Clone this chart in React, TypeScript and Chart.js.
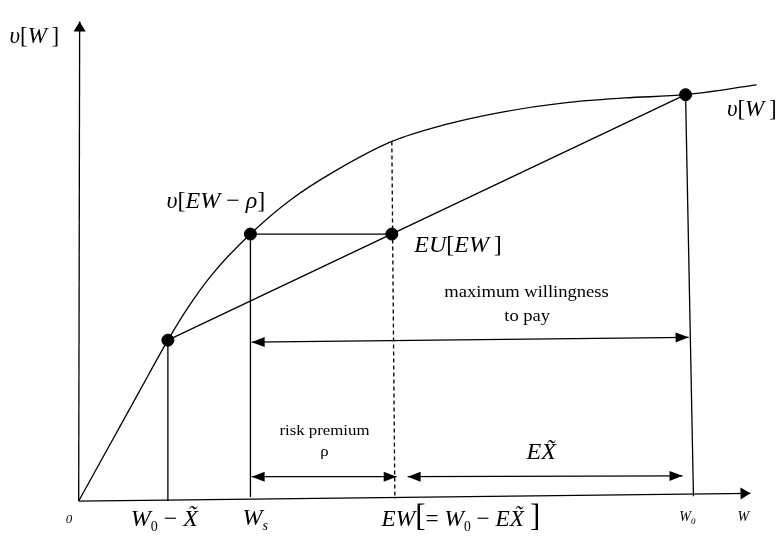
import { useEffect, useRef } from 'react';
import { Chart, registerables } from 'chart.js';

Chart.register(...registerables);

// ---- data (W in units where W0 = 100, utility in units where v[W0] = 100) ----
const curveW = [0, 10, 14.7, 18, 22, 28.3, 35, 42, 51.6, 60, 70, 80, 90, 100, 111.7];
const curveV = [0, 27, 39.6, 47.6, 55.8, 65.7, 74.2, 81.0, 88.5, 92.5, 95.8, 98.0, 99.2, 100, 102.4];

const keyW = [14.7, 28.3, 51.6, 100]; // W0 - X~, Ws, EW, W0
const keyV = [39.6, 65.7, 88.5, 100]; // v[W0-X~], v[EW-rho], v[EW], v[W0]
const euValue = 65.7; // EU[EW] on the chord at EW

const xAxisEnd = [110.7, 1.9];
const yAxisTop = [0.16, 118];
const dashedFoot = [52.1, 0.5];
const wsFoot = [28.3, 1.0];
const w0Foot = [101.3, 1.2];

const maxPayW = [28.5, 100.5];
const maxPayV = [39.1, 40.3];
const premiumW = [28.5, 52.4];
const premiumV = [6.0, 6.0];
const expLossW = [54.2, 99.5];
const expLossV = [6.0, 6.2];

const FONT = '"Liberation Serif", "Times New Roman", serif';

type Seg = { t: string; size: number; italic?: boolean; dy?: number };
const s = (t: string, size: number, italic = false, dy = 0): Seg => ({ t, size, italic, dy });

// annotation anchors (data units: centre x, baseline y)
const labels: { w: number; v: number; sx: number; segs: Seg[] }[] = [
  { w: -7.3, v: 112.7, sx: 1, segs: [s('υ', 23, true), s('[', 23), s('W', 23, true), s('\u2009]', 23)] },
  { w: 110.9, v: 94.7, sx: 1, segs: [s('υ', 23, true), s('[', 23), s('W', 23, true), s('\u2009]', 23)] },
  { w: 22.6, v: 72.2, sx: 1, segs: [s('υ', 24, true), s('[', 24), s('EW', 24, true), s(' − ', 24), s('ρ', 24, true), s(']', 24)] },
  { w: 62.5, v: 61.2, sx: 1, segs: [s('EU', 24, true), s('[', 24), s('EW', 24, true), s('\u2009]', 24)] },
  { w: 76.2, v: 10.3, sx: 1.05, segs: [s('EX\u0303', 23, true)] },
  { w: 73.8, v: 50.1, sx: 1.16, segs: [s('maximum willingness', 16)] },
  { w: 73.9, v: 44.4, sx: 1.16, segs: [s('to pay', 16)] },
  { w: 40.5, v: 16.3, sx: 1.2, segs: [s('risk premium', 14)] },
  { w: 40.5, v: 11.0, sx: 1.2, segs: [s('ρ', 14)] },
  { w: -1.6, v: -5.5, sx: 1, segs: [s('0', 13, true)] },
  { w: 14.1, v: -6.2, sx: 1, segs: [s('W', 24, true), s('0', 14, false, 5), s(' − ', 24), s('X\u0303', 24, true)] },
  { w: 29.1, v: -6.0, sx: 1, segs: [s('W', 24, true), s('s', 14, true, 5)] },
  { w: 63.0, v: -6.2, sx: 0.97, segs: [s('EW', 24, true), s('[', 32), s('= ', 24), s('W', 24, true), s('0', 14, false, 5), s(' − ', 24), s('EX\u0303', 24, true), s('\u2009]', 32)] },
  { w: 100.3, v: -4.8, sx: 1, segs: [s('W', 14, true), s('0', 9, true, 3)] },
  { w: 109.5, v: -4.8, sx: 1, segs: [s('W', 14, true)] },
];

const fontOf = (g: Seg) => `${g.italic ? 'italic ' : ''}${g.size}px ${FONT}`;

function drawHead(ctx: CanvasRenderingContext2D, tip: any, from: any, len: number, wid: number) {
  const a = Math.atan2(tip.y - from.y, tip.x - from.x);
  const cx = Math.cos(a), sy = Math.sin(a);
  const bx = tip.x - len * cx, by = tip.y - len * sy;
  ctx.beginPath();
  ctx.moveTo(tip.x, tip.y);
  ctx.lineTo(bx - (wid / 2) * sy, by + (wid / 2) * cx);
  ctx.lineTo(bx + (wid / 2) * sy, by - (wid / 2) * cx);
  ctx.closePath();
  ctx.fill();
}

const annotPlugin = {
  id: 'annot',
  afterDatasetsDraw(chart: any) {
    const ctx: CanvasRenderingContext2D = chart.ctx;
    ctx.save();
    ctx.fillStyle = '#000';
    chart.data.datasets.forEach((ds: any, i: number) => {
      if (!ds.arrow) return;
      const pts = chart.getDatasetMeta(i).data;
      const first = pts[0], last = pts[pts.length - 1];
      const len = ds.headLen || 13, wid = ds.headWid || 10;
      drawHead(ctx, last, first, len, wid);
      if (ds.arrow === 'both') drawHead(ctx, first, last, len, wid);
    });
    ctx.restore();
  },
  afterDraw(chart: any) {
    const ctx: CanvasRenderingContext2D = chart.ctx;
    const xs = chart.scales.x, ys = chart.scales.y;
    ctx.save();
    ctx.fillStyle = '#000';
    ctx.textBaseline = 'alphabetic';
    ctx.textAlign = 'left';
    labels.forEach((lb) => {
      let total = 0;
      const widths = lb.segs.map((g) => {
        ctx.font = fontOf(g);
        const w = ctx.measureText(g.t).width;
        total += w;
        return w;
      });
      const px = xs.getPixelForValue(lb.w);
      const py = ys.getPixelForValue(lb.v);
      ctx.save();
      ctx.translate(px - (total * lb.sx) / 2, py);
      ctx.scale(lb.sx, 1);
      let off = 0;
      lb.segs.forEach((g, k) => {
        ctx.font = fontOf(g);
        ctx.fillText(g.t, off, g.dy || 0);
        off += widths[k];
      });
      ctx.restore();
    });
    ctx.restore();
  },
};

const line = (pts: { x: number; y: number }[], extra: any = {}) => ({
  type: 'scatter',
  data: pts,
  showLine: true,
  borderColor: '#000',
  borderWidth: 1.3,
  pointRadius: 0,
  fill: false,
  tension: 0,
  ...extra,
});

export default function App() {
  const ref = useRef<HTMLCanvasElement>(null);
  useEffect(() => {
    if (!ref.current) return;
    const [wLow, wS, wEW, w0] = keyW;
    const [vLow, vS, vEW, v0] = keyV;
    const datasets: any[] = [
      {
        type: 'scatter',
        data: [
          { x: wLow, y: vLow },
          { x: wS, y: vS },
          { x: wEW, y: euValue },
          { x: w0, y: v0 },
        ],
        pointRadius: 6,
        pointBackgroundColor: '#000',
        pointBorderColor: '#000',
        showLine: false,
      },
      line(curveW.map((w, i) => ({ x: w, y: curveV[i] })), { tension: 0.4, cubicInterpolationMode: 'monotone' }),
      line([{ x: wLow, y: vLow }, { x: w0, y: v0 }]),
      line([{ x: 0, y: 0 }, { x: xAxisEnd[0], y: xAxisEnd[1] }], { arrow: 'end', headLen: 10, headWid: 12 }),
      line([{ x: 0, y: 0 }, { x: yAxisTop[0], y: yAxisTop[1] }], { arrow: 'end', headLen: 10, headWid: 12 }),
      line([{ x: wLow, y: vLow }, { x: wLow, y: 0 }]),
      line([{ x: wS, y: vS }, { x: wsFoot[0], y: wsFoot[1] }]),
      line([{ x: wS, y: vS }, { x: wEW, y: euValue }]),
      line([{ x: wEW, y: vEW }, { x: dashedFoot[0], y: dashedFoot[1] }], { borderDash: [4, 3] }),
      line([{ x: w0, y: v0 }, { x: w0Foot[0], y: w0Foot[1] }]),
      line([{ x: maxPayW[0], y: maxPayV[0] }, { x: maxPayW[1], y: maxPayV[1] }], { arrow: 'both' }),
      line([{ x: premiumW[0], y: premiumV[0] }, { x: premiumW[1], y: premiumV[1] }], { arrow: 'both' }),
      line([{ x: expLossW[0], y: expLossV[0] }, { x: expLossW[1], y: expLossV[1] }], { arrow: 'both' }),
    ];
    const chart = new Chart(ref.current, {
      type: 'scatter',
      data: { datasets },
      options: {
        animation: false,
        responsive: false,
        events: [],
        layout: { padding: 0 },
        plugins: { legend: { display: false }, tooltip: { enabled: false } },
        scales: {
          x: { type: 'linear', display: false, min: -73 / 6.18, max: (778 - 73) / 6.18 },
          y: { type: 'linear', display: false, min: (507 - 548) / 4.17, max: 507 / 4.17 },
        },
      },
      plugins: [annotPlugin],
    } as any);
    return () => chart.destroy();
  }, []);
  return (
    <div style={{ position: 'absolute', left: 0, top: 0, width: 778, height: 548, background: '#fff' }}>
      <canvas ref={ref} width={778} height={548} style={{ width: 778, height: 548 }} />
    </div>
  );
}
